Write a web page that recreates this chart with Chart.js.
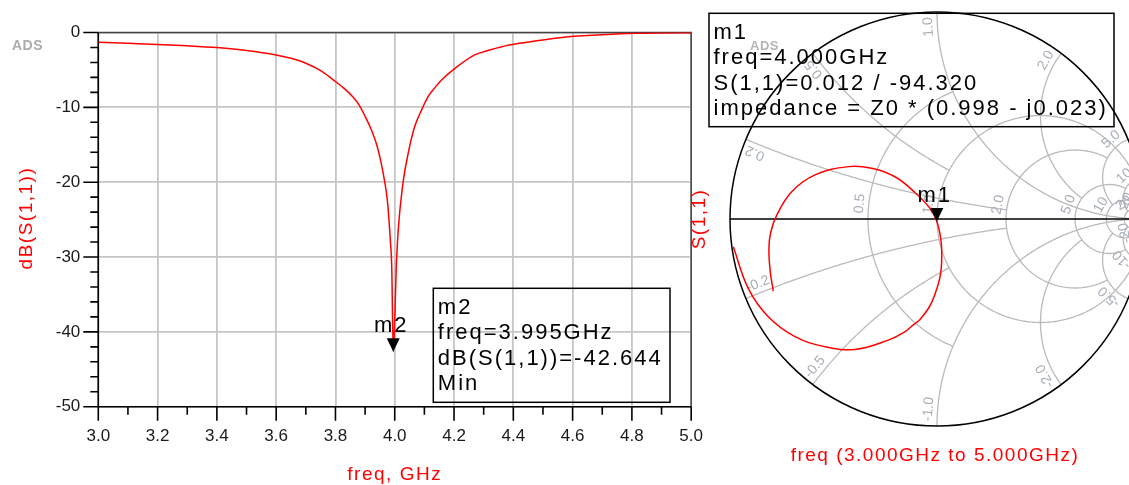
<!DOCTYPE html>
<html lang="en">
<head>
<meta charset="utf-8">
<title>S(1,1), 3 to 5 GHz</title>
<script src="https://cdn.jsdelivr.net/npm/chart.js@4.4.1/dist/chart.umd.min.js"></script>
<style>
  html, body { margin: 0; padding: 0; background: #ffffff; overflow: hidden; }
  #stage { position: relative; width: 1129px; height: 485px; overflow: hidden; background: #ffffff; }
  #rect  { position: absolute; left: 0; top: 0; width: 722px; height: 485px; }
  #smith { position: absolute; left: 680px; top: 0; width: 480px; height: 485px; }
</style>
</head>
<body>
<div id="stage">
  <canvas id="rect" width="722" height="485"></canvas>
  <canvas id="smith" width="480" height="485"></canvas>
</div>
<script>
const FONT = '"Liberation Sans", Arial, Helvetica, sans-serif';
const RED = '#ff0000';

// Swept return loss, dB(S(1,1)) against frequency in GHz
const freqGHz = [3.00, 3.10, 3.20, 3.30, 3.40, 3.50, 3.60, 3.65, 3.70, 3.75,
                 3.80, 3.83, 3.86, 3.88, 3.90, 3.92, 3.94, 3.955, 3.965, 3.975,
                 3.985, 3.990, 3.995, 4.000, 4.005, 4.010, 4.015, 4.021, 4.030, 4.045,
                 4.067, 4.090, 4.112, 4.135, 4.158, 4.203, 4.270, 4.320, 4.361, 4.420,
                 4.473, 4.530, 4.586, 4.650, 4.700, 4.813, 4.900, 5.000];
const s11dB = [-1.30, -1.45, -1.60, -1.78, -2.02, -2.40, -3.00, -3.45, -4.10, -5.10,
               -6.55, -7.50, -8.65, -9.70, -11.20, -12.90, -15.10, -17.60, -19.70, -22.40,
               -27.70, -31.50, -42.644, -38.40, -31.50, -27.50, -24.80, -22.40, -19.50, -16.20,
               -12.60, -10.40, -8.60, -7.40, -6.35, -4.80, -3.00, -2.35, -1.90, -1.45,
               -1.14, -0.82, -0.56, -0.40, -0.29, -0.11, -0.06, -0.03];

// The same sweep as a reflection coefficient (real, imaginary), 3 GHz first
const gammaRe = [-0.791, -0.806, -0.812, -0.803, -0.774, -0.702, -0.589, -0.428, -0.316, -0.203,
                 -0.111, -0.034, -0.0009, 0.012, 0.022, 0.018, -0.012, -0.040, -0.082, -0.110,
                 -0.160, -0.235, -0.396, -0.541, -0.686, -0.815, -0.912, -0.984];
const gammaIm = [-0.348, -0.250, -0.142, -0.063, 0.019, 0.132, 0.213, 0.253, 0.245, 0.204,
                 0.132, 0.052, -0.012, -0.060, -0.134, -0.260, -0.370, -0.430, -0.485, -0.508,
                 -0.548, -0.585, -0.630, -0.617, -0.568, -0.472, -0.335, -0.134];

// Rectangular plot ticks
const freqTicks = [3.0, 3.2, 3.4, 3.6, 3.8, 4.0, 4.2, 4.4, 4.6, 4.8, 5.0];
const freqMinorTicks = [3.1, 3.3, 3.5, 3.7, 3.9, 4.1, 4.3, 4.5, 4.7, 4.9];
const dbTicks = [0, -10, -20, -30, -40, -50];
const dbMinorTicks = [-2, -4, -6, -8, -12, -14, -16, -18, -22, -24, -26, -28,
                      -32, -34, -36, -38, -42, -44, -46, -48];

// Smith chart grid: constant resistance circles and constant reactance arcs,
// each one drawn only up to the limit given next to it
const resistanceCircles = [0.5, 1, 2, 5, 10, 20];
const resistanceLimit   = [1, Infinity, 5, 10, 20, Infinity];
const resistanceLabels  = ['0.5', '1.0', '2.0', '5.0', '10', '20'];
const reactanceArcs  = [0.2, 0.5, 1, 2, 5, 10, 20];
const reactanceLimit = [2, 1, Infinity, 5, 10, 20, Infinity];
const reactanceLabels = ['0.2', '0.5', '1.0', '2.0', '5.0', '10', '20'];

// Markers
const markerM2 = { name: 'm2', freq: 3.995, dB: -42.644, note: 'Min' };
const markerM1 = { name: 'm1', freq: 4.000, mag: 0.012, angleDeg: -94.320, zRe: 0.998, zIm: -0.023 };

// ---------- helpers ----------
function gam(r, x) {               // reflection coefficient of z = r + jx
  const d = (r + 1) * (r + 1) + x * x;
  return [(r * r + x * x - 1) / d, (2 * x) / d];
}
function normAng(a) { return a < 0 ? a + 2 * Math.PI : a; }

function spacedText(ctx, text, x, y, size, color, spacing, align, baseline, weight) {
  ctx.save();
  ctx.font = `${weight || ''} ${size}px ${FONT}`;
  ctx.fillStyle = color;
  ctx.textAlign = align || 'left';
  ctx.textBaseline = baseline || 'alphabetic';
  if ('letterSpacing' in ctx) ctx.letterSpacing = spacing + 'px';
  ctx.fillText(text, x, y);
  ctx.restore();
}

function drawMarker(ctx, px, py, name) {
  ctx.save();
  ctx.fillStyle = '#000';
  ctx.beginPath();
  ctx.moveTo(px, py);
  ctx.lineTo(px - 6.5, py - 13.5);
  ctx.lineTo(px + 6.5, py - 13.5);
  ctx.closePath();
  ctx.fill();
  ctx.restore();
  spacedText(ctx, name, px - 2, py - 19.8, 22, '#000', 2, 'center');
}

function drawReadout(ctx, box, lines) {
  ctx.save();
  ctx.strokeStyle = '#000';
  ctx.lineWidth = 1.5;
  ctx.strokeRect(box.x, box.y, box.w, box.h);
  ctx.restore();
  lines.forEach((t, i) => spacedText(ctx, t, box.x + 4.5, box.y + 25.5 + 25.5 * i, 22, '#000', 2, 'left'));
}

function labelAlong(ctx, pts, center, text, gap, off) {
  const w = ctx.measureText(text).width;
  const target = w / 2 + gap;
  let acc = 0, k = 1;
  for (; k < pts.length; k++) {
    const d = Math.hypot(pts[k][0] - pts[k - 1][0], pts[k][1] - pts[k - 1][1]);
    if (acc + d >= target) break;
    acc += d;
  }
  const p = pts[Math.min(k, pts.length - 1)];
  let nx = p[0] - center[0], ny = p[1] - center[1];
  const L = Math.hypot(nx, ny) || 1;
  nx /= L; ny /= L;
  ctx.save();
  ctx.translate(p[0] + nx * off, p[1] + ny * off);
  ctx.rotate(Math.atan2(nx, -ny));
  ctx.textAlign = 'center';
  ctx.textBaseline = 'middle';
  ctx.fillText(text, 0, 0);
  ctx.restore();
}

// ---------- rectangular plot: frame, ticks, marker, titles ----------
const rectDecor = {
  id: 'rectDecor',
  beforeDatasetsDraw(chart) {
    const { ctx, chartArea: a, scales: { x, y } } = chart;
    ctx.save();
    ctx.strokeStyle = '#444';
    ctx.lineWidth = 1.5;
    ctx.beginPath();
    ctx.moveTo(a.left, a.top); ctx.lineTo(a.right, a.top); ctx.lineTo(a.right, a.bottom);
    ctx.stroke();

    ctx.strokeStyle = '#000';
    ctx.lineWidth = 1.6;
    ctx.beginPath();
    ctx.moveTo(a.left, a.top); ctx.lineTo(a.left, a.bottom); ctx.lineTo(a.right, a.bottom);
    dbTicks.forEach(v => { const p = y.getPixelForValue(v); ctx.moveTo(a.left - 15, p); ctx.lineTo(a.left, p); });
    dbMinorTicks.forEach(v => { const p = y.getPixelForValue(v); ctx.moveTo(a.left - 8, p); ctx.lineTo(a.left, p); });
    freqTicks.forEach(v => { const p = x.getPixelForValue(v); ctx.moveTo(p, a.bottom); ctx.lineTo(p, a.bottom + 14); });
    freqMinorTicks.forEach(v => { const p = x.getPixelForValue(v); ctx.moveTo(p, a.bottom); ctx.lineTo(p, a.bottom + 8); });
    ctx.stroke();
    ctx.restore();
  },
  afterDatasetsDraw(chart) {
    const { ctx, chartArea: a, scales: { x, y } } = chart;
    drawMarker(ctx, x.getPixelForValue(markerM2.freq), y.getPixelForValue(markerM2.dB), markerM2.name);
    drawReadout(ctx, { x: 433.3, y: 288.3, w: 236.7, h: 114 }, [
      markerM2.name,
      `freq=${markerM2.freq.toFixed(3)}GHz`,
      `dB(S(1,1))=${markerM2.dB.toFixed(3)}`,
      markerM2.note
    ]);
    // axis titles
    ctx.save();
    ctx.translate(27, (a.top + a.bottom) / 2 - 1.5);
    ctx.rotate(-Math.PI / 2);
    spacedText(ctx, 'dB(S(1,1))', 0, 0, 19, RED, 1.5, 'center', 'middle');
    ctx.restore();
    spacedText(ctx, 'freq, GHz', (a.left + a.right) / 2, 475, 19, RED, 1.5, 'center', 'middle');
    spacedText(ctx, 'ADS', 12, 49.5, 14, '#ababab', 0.5, 'left', 'alphabetic', 'bold');
  }
};

new Chart(document.getElementById('rect'), {
  type: 'line',
  data: {
    datasets: [{
      data: freqGHz.map((f, i) => ({ x: f, y: s11dB[i] })),
      borderColor: RED,
      borderWidth: 1.5,
      pointRadius: 0,
      cubicInterpolationMode: 'monotone',
      fill: false
    }]
  },
  options: {
    responsive: false,
    animation: false,
    devicePixelRatio: 1,
    // the right margin comes from the x labels (half label width + tick padding)
    layout: { padding: { left: 0, top: 32.5, right: 0, bottom: 0 } },
    plugins: { legend: { display: false }, tooltip: { enabled: false } },
    scales: {
      x: {
        type: 'linear', min: 3, max: 5,
        afterBuildTicks: s => { s.ticks = freqTicks.map(v => ({ value: v })); },
        afterFit: s => { s.height = 78.3; },
        grid: { color: '#c6c6c6', lineWidth: 1.8, drawTicks: false },
        border: { display: false },
        ticks: {
          callback: v => Number(v).toFixed(1),
          font: { family: FONT, size: 17 },
          color: '#1a1a1a', padding: 19, maxRotation: 0, minRotation: 0, autoSkip: false
        }
      },
      y: {
        type: 'linear', min: -50, max: 0,
        afterBuildTicks: s => { s.ticks = dbTicks.map(v => ({ value: v })); },
        afterFit: s => { s.width = 98.3; },
        grid: { color: '#c6c6c6', lineWidth: 1.8, drawTicks: false },
        border: { display: false },
        ticks: {
          callback: v => String(v),
          font: { family: FONT, size: 17 },
          color: '#1a1a1a', padding: 18, autoSkip: false
        }
      }
    }
  },
  plugins: [rectDecor]
});

// ---------- Smith chart: grid, marker, titles ----------
const smithDecor = {
  id: 'smithDecor',
  beforeDatasetsDraw(chart) {
    const { ctx, scales: { x: sx, y: sy } } = chart;
    const P = (gx, gy) => [sx.getPixelForValue(gx), sy.getPixelForValue(gy)];
    const poly = pts => {
      ctx.beginPath();
      pts.forEach((p, k) => k ? ctx.lineTo(p[0], p[1]) : ctx.moveTo(p[0], p[1]));
      ctx.stroke();
    };
    const N = 180;
    ctx.save();
    ctx.strokeStyle = '#bababa';
    ctx.lineWidth = 1.3;
    ctx.font = `14px ${FONT}`;
    ctx.fillStyle = '#a7aeb8';

    resistanceCircles.forEach((r, i) => {
      const cx = r / (r + 1), rho = 1 / (r + 1);
      let ta = 0;
      if (isFinite(resistanceLimit[i])) {
        const g = gam(r, resistanceLimit[i]);
        ta = Math.atan2(g[1], g[0] - cx);
      }
      const pts = [];
      for (let k = 0; k <= N; k++) {
        const t = ta + (2 * Math.PI - 2 * ta) * k / N;
        pts.push(P(cx + rho * Math.cos(t), rho * Math.sin(t)));
      }
      poly(pts);
      const lab = [];
      for (let k = 0; k <= 60; k++) {
        const t = Math.PI - (Math.PI / 2) * k / 60;
        lab.push(P(cx + rho * Math.cos(t), rho * Math.sin(t)));
      }
      labelAlong(ctx, lab, P(cx, 0), resistanceLabels[i], 2, 9);
    });

    reactanceArcs.forEach((xv, i) => {
      const g0 = gam(0, xv);
      const f0 = normAng(Math.atan2(g0[1] - 1 / xv, g0[0] - 1));
      let f1 = 1.5 * Math.PI;
      if (isFinite(reactanceLimit[i])) {
        const g1 = gam(reactanceLimit[i], xv);
        f1 = normAng(Math.atan2(g1[1] - 1 / xv, g1[0] - 1));
      }
      [1, -1].forEach(sg => {
        const pts = [];
        for (let k = 0; k <= N; k++) {
          const f = f0 + (f1 - f0) * k / N;
          pts.push(P(1 + Math.cos(f) / xv, sg * (1 / xv + Math.sin(f) / xv)));
        }
        poly(pts);
        labelAlong(ctx, pts, P(1, sg / xv), (sg < 0 ? '-' : '') + reactanceLabels[i], 3, 9);
      });
    });

    // unit circle and real axis
    ctx.strokeStyle = '#000';
    ctx.lineWidth = 1.5;
    const c = P(0, 0), R = sx.getPixelForValue(1) - c[0];
    ctx.beginPath(); ctx.arc(c[0], c[1], R, 0, 2 * Math.PI); ctx.stroke();
    const l = P(-1, 0), rr = P(1, 0);
    ctx.beginPath(); ctx.moveTo(l[0], l[1]); ctx.lineTo(rr[0], rr[1]); ctx.stroke();
    ctx.restore();
  },
  afterDatasetsDraw(chart) {
    const { ctx, chartArea: a, scales: { x: sx, y: sy } } = chart;
    const ang = markerM1.angleDeg * Math.PI / 180;
    drawMarker(ctx, sx.getPixelForValue(markerM1.mag * Math.cos(ang)),
                    sy.getPixelForValue(markerM1.mag * Math.sin(ang)), markerM1.name);
    spacedText(ctx, 'ADS', 70, 50, 13, '#b4b4b4', 0.5, 'left', 'alphabetic', 'bold');
    drawReadout(ctx, { x: 29, y: 13.3, w: 405, h: 113.4 }, [
      markerM1.name,
      `freq=${markerM1.freq.toFixed(3)}GHz`,
      `S(1,1)=${markerM1.mag.toFixed(3)} / ${markerM1.angleDeg.toFixed(3)}`,
      `impedance = Z0 * (${markerM1.zRe.toFixed(3)} - j${Math.abs(markerM1.zIm).toFixed(3)})`
    ]);
    ctx.save();
    ctx.translate(20, (a.top + a.bottom) / 2);
    ctx.rotate(-Math.PI / 2);
    spacedText(ctx, 'S(1,1)', 0, 0, 19, RED, 1.5, 'center', 'middle');
    ctx.restore();
    spacedText(ctx, `freq (${freqGHz[0].toFixed(3)}GHz to ${freqGHz[freqGHz.length - 1].toFixed(3)}GHz)`,
               sx.getPixelForValue(0) - 2, 455.5, 19, RED, 1.5, 'center', 'middle');
  }
};

new Chart(document.getElementById('smith'), {
  type: 'scatter',
  data: {
    datasets: [{
      data: gammaRe.map((g, i) => ({ x: g, y: gammaIm[i] })),
      showLine: true,
      borderColor: RED,
      borderWidth: 1.5,
      pointRadius: 0,
      tension: 0.4,
      fill: false
    }]
  },
  options: {
    responsive: false,
    animation: false,
    devicePixelRatio: 1,
    layout: { padding: { left: 50, top: 12, right: 16, bottom: 59 } },
    plugins: { legend: { display: false }, tooltip: { enabled: false } },
    scales: {
      x: { type: 'linear', min: -1, max: 1, display: false },
      y: { type: 'linear', min: -1, max: 1, display: false }
    }
  },
  plugins: [smithDecor]
});
</script>
</body>
</html>
